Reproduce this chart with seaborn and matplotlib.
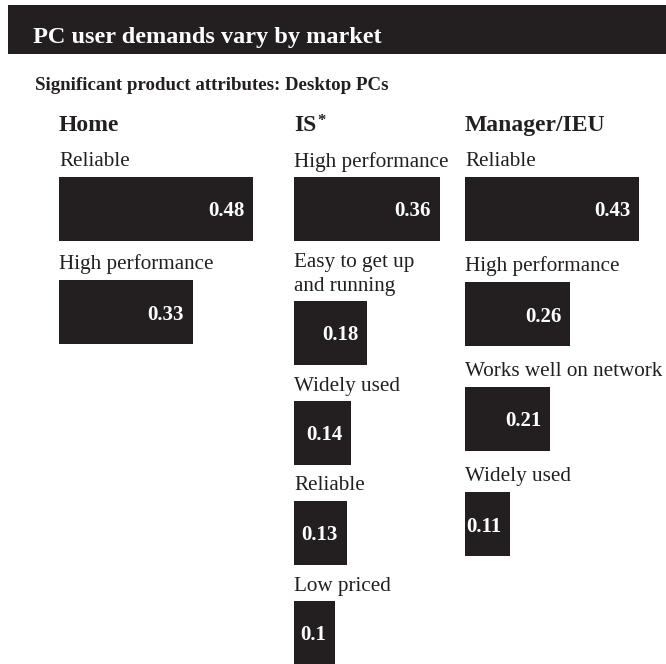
import matplotlib
matplotlib.use("Agg")
import matplotlib.pyplot as plt
from matplotlib.patches import Rectangle
import seaborn as sns

# ---- data ----
title = "PC user demands vary by market"
subtitle = "Significant product attributes: Desktop PCs"

home_header = "Home"
home_labels = ["Reliable", "High performance"]
home_values = [0.48, 0.33]

is_header = "IS"
is_labels = ["High performance", "Easy to get up\nand running", "Widely used",
             "Reliable", "Low priced"]
is_values = [0.36, 0.18, 0.14, 0.13, 0.10]

mgr_header = "Manager/IEU"
mgr_labels = ["Reliable", "High performance", "Works well on network", "Widely used"]
mgr_values = [0.43, 0.26, 0.21, 0.11]

# ---- style ----
sns.set_theme(style="white")
plt.rcParams["font.family"] = ["Liberation Serif", "DejaVu Serif"]
INK = "#231f20"

W, H = 666, 664
DPI = 100
fig = plt.figure(figsize=(W / DPI, H / DPI), dpi=DPI)
fig.patch.set_facecolor("white")

# layout in pixels
PX_PER_UNIT = 405          # bar length scale
FIRST_TOP = 177            # top of first bar in each column
LINE = 24                  # extra room per additional label line
BAR_H = 64                 # bar thickness
LABEL_GAP = 10.5           # label baseline above bar top
HEADER_BASE = 131

# background layer for the banner and headings
bg = fig.add_axes([0, 0, 1, 1])
bg.set_xlim(0, W)
bg.set_ylim(H, 0)
bg.axis("off")
bg.add_patch(Rectangle((8, 5), W - 8, 49, facecolor=INK, edgecolor="none"))
bg.text(33, 43, title, color="white", fontsize=17.5, fontweight="bold",
        va="baseline", ha="left")
bg.text(35, 90, subtitle, color=INK, fontsize=13.6, fontweight="bold",
        va="baseline", ha="left")

# header, labels, values, left edge (px), bar pitch (px), starred header
columns = [
    (home_header, home_labels, home_values, 59, 103, False),
    (is_header, is_labels, is_values, 294, 100, True),
    (mgr_header, mgr_labels, mgr_values, 465, 105, False),
]

for header, labels, values, left_px, pitch, starred in columns:
    width_px = W - left_px
    ax = fig.add_axes([left_px / W, 0, width_px / W, 1])

    # bar tops follow label line counts
    tops = []
    y = FIRST_TOP
    for i, lab in enumerate(labels):
        n = lab.count("\n") + 1
        if i == 0:
            y = FIRST_TOP + LINE * (n - 1)
        else:
            y = y + pitch + LINE * (n - 1)
        tops.append(y)
    centers = [t + BAR_H / 2 for t in tops]
    min_gap = min(b - a for a, b in zip(centers[:-1], centers[1:]))

    sns.barplot(x=values, y=centers, orient="h", native_scale=True,
                width=BAR_H / min_gap, color=INK, saturation=1,
                edgecolor="none", linewidth=0, ax=ax)
    ax.set_xlim(0, width_px / PX_PER_UNIT)
    ax.set_ylim(H, 0)
    ax.axis("off")

    # column header
    htxt = ax.text(0, HEADER_BASE, header, color=INK, fontsize=17,
                   fontweight="bold", va="baseline", ha="left")
    if starred:
        ax.annotate("*", xy=(1, 1), xycoords=htxt, xytext=(0.5, 1.5),
                    textcoords="offset points", color=INK, fontsize=12,
                    fontweight="bold", va="top", ha="left")

    for lab, val, top, c in zip(labels, values, tops, centers):
        lines = lab.split("\n")
        n = len(lines)
        for j, line in enumerate(lines):
            ax.text(0, top - LABEL_GAP - LINE * (n - 1 - j), line, color=INK,
                    fontsize=15.2, va="baseline", ha="left")
        ax.annotate(f"{val:g}", xy=(val, c), xytext=(-6.2, -5.4),
                    textcoords="offset points", color="white", fontsize=15,
                    fontweight="bold", ha="right", va="baseline")

fig.savefig("out.png", dpi=DPI, facecolor="white")
